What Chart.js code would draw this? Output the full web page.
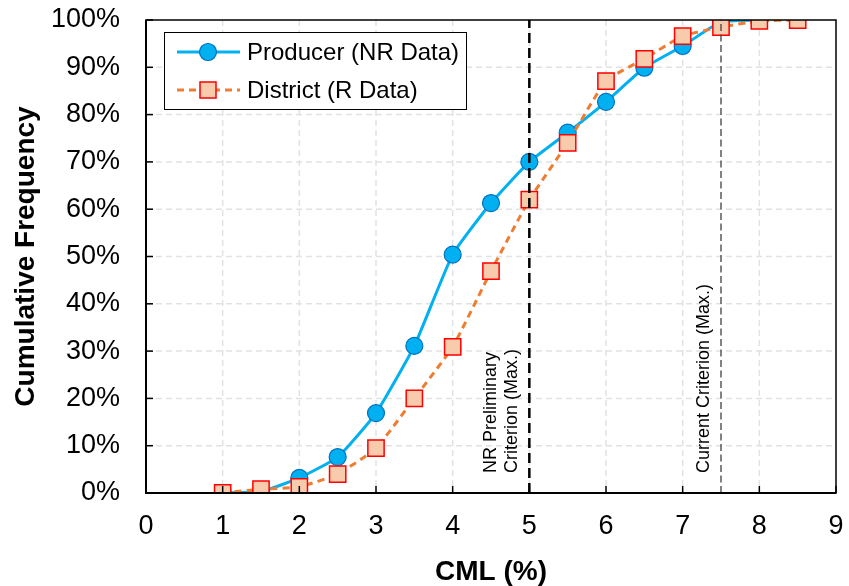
<!DOCTYPE html>
<html><head><meta charset="utf-8">
<script src="https://cdn.jsdelivr.net/npm/chart.js@4/dist/chart.umd.min.js"></script>
<style>html,body{margin:0;padding:0;background:#fff}#wrap{width:849px;height:586px}</style>
</head><body><div id="wrap"><canvas id="c" width="849" height="586"></canvas></div>
<script>
const producerX = [1, 1.5, 2, 2.5, 3, 3.5, 4, 4.5, 5, 5.5, 6, 6.5, 7, 7.5, 8];
const producerY = [0, 0.3, 3.2, 7.6, 16.9, 31.1, 50.4, 61.3, 70.0, 76.2, 82.7, 89.9, 94.5, 99.6, 100];
const districtX = [1, 1.5, 2, 2.5, 3, 3.5, 4, 4.5, 5, 5.5, 6, 6.5, 7, 7.5, 8, 8.5];
const districtY = [0, 0.8, 1.3, 4.0, 9.5, 20.0, 30.9, 46.9, 62.0, 74.0, 87.1, 91.8, 96.6, 98.5, 99.8, 100];
const xTicks = [0,1,2,3,4,5,6,7,8,9];
const yTicks = [0,10,20,30,40,50,60,70,80,90,100];
const criteria = [
  {x: 5, lines: ['NR Preliminary', 'Criterion (Max.)'], color: '#000000', width: 2.5, dash: [10, 5]},
  {x: 7.5, lines: ['Current Criterion (Max.)'], color: '#404040', width: 1.3, dash: [7, 3.5]}
];
const seriesNames = ['Producer (NR Data)', 'District (R Data)'];

const FONT = '"Liberation Sans", Arial, sans-serif';

const toPts = (xs, ys) => xs.map((x, i) => ({x, y: ys[i]}));

const overlay = {
  id: 'overlay',
  beforeDatasetsDraw(chart) {
    const {ctx, chartArea: a, scales: {x, y}} = chart;
    ctx.save();
    ctx.strokeStyle = '#E2E2E2';
    ctx.lineWidth = 1.5;
    ctx.setLineDash([6, 4]);
    xTicks.forEach(v => {
      if (v === 0 || v === 9) return;
      const px = x.getPixelForValue(v);
      ctx.beginPath(); ctx.moveTo(px, a.top); ctx.lineTo(px, a.bottom); ctx.stroke();
    });
    yTicks.forEach(v => {
      if (v === 0 || v === 100) return;
      const py = y.getPixelForValue(v);
      ctx.beginPath(); ctx.moveTo(a.left, py); ctx.lineTo(a.right, py); ctx.stroke();
    });
    ctx.restore();
  },
  afterDatasetsDraw(chart) {
    const {ctx, chartArea: a, scales: {x, y}} = chart;
    ctx.save();
    // criterion lines
    criteria.forEach(c => {
      const px = x.getPixelForValue(c.x);
      ctx.strokeStyle = c.color; ctx.lineWidth = c.width; ctx.setLineDash(c.dash);
      ctx.beginPath(); ctx.moveTo(px, a.bottom); ctx.lineTo(px, a.top); ctx.stroke();
      ctx.setLineDash([]);
      ctx.fillStyle = '#000';
      ctx.font = '18px ' + FONT;
      ctx.textAlign = 'left'; ctx.textBaseline = 'middle';
      const n = c.lines.length;
      c.lines.forEach((t, i) => {
        ctx.save();
        const cx = px - 17 - (n - 1 - i) * 21;
        ctx.translate(cx, a.bottom - 20);
        ctx.rotate(-Math.PI / 2);
        ctx.fillText(t, 0, 0);
        ctx.restore();
      });
    });
    // frame
    ctx.setLineDash([]);
    ctx.strokeStyle = '#000'; ctx.lineWidth = 1.5;
    ctx.strokeRect(a.left, a.top, a.right - a.left, a.bottom - a.top);
    ctx.lineWidth = 2;
    ctx.beginPath(); ctx.moveTo(a.left, a.top); ctx.lineTo(a.left, a.bottom); ctx.lineTo(a.right, a.bottom); ctx.stroke();
    // inside ticks
    ctx.lineWidth = 1.5;
    xTicks.forEach(v => {
      const px = x.getPixelForValue(v);
      ctx.beginPath(); ctx.moveTo(px, a.bottom); ctx.lineTo(px, a.bottom - 7); ctx.stroke();
    });
    yTicks.forEach(v => {
      const py = y.getPixelForValue(v);
      ctx.beginPath(); ctx.moveTo(a.left, py); ctx.lineTo(a.left + 7, py); ctx.stroke();
    });
    // legend
    const lx = 164, ly = 32, lw = 302, lh = 77;
    ctx.fillStyle = '#fff'; ctx.fillRect(lx, ly, lw, lh);
    ctx.strokeStyle = '#000'; ctx.lineWidth = 1; ctx.strokeRect(lx + 0.5, ly + 0.5, lw, lh);
    chart.data.datasets.forEach((ds, i) => {
      const cy = ly + 20 + i * 38;
      ctx.strokeStyle = ds.borderColor; ctx.lineWidth = 3;
      ctx.setLineDash(ds.borderDash || []);
      ctx.beginPath(); ctx.moveTo(lx + 13, cy); ctx.lineTo(lx + 76, cy); ctx.stroke();
      ctx.setLineDash([]);
      ctx.fillStyle = ds.pointBackgroundColor; ctx.strokeStyle = ds.pointBorderColor; ctx.lineWidth = ds.pointBorderWidth;
      if (ds.pointStyle === 'rect') {
        ctx.fillRect(lx + 36, cy - 8, 16, 16); ctx.strokeRect(lx + 36, cy - 8, 16, 16);
      } else {
        ctx.beginPath(); ctx.arc(lx + 44, cy, 8.5, 0, Math.PI * 2); ctx.fill(); ctx.stroke();
      }
      ctx.fillStyle = '#000'; ctx.font = '24px ' + FONT;
      ctx.textAlign = 'left'; ctx.textBaseline = 'middle';
      ctx.fillText(seriesNames[i], lx + 83, cy + 1);
    });
    ctx.restore();
  }
};

new Chart(document.getElementById('c'), {
  type: 'scatter',
  data: {
    datasets: [
      {
        label: seriesNames[0], data: toPts(producerX, producerY), showLine: true,
        borderColor: '#00B0F0', borderWidth: 3, tension: 0.15,
        pointStyle: 'circle', pointRadius: 8.5, pointHoverRadius: 8.5,
        pointBackgroundColor: '#00B0F0', pointBorderColor: '#0070C0', pointBorderWidth: 1.2,
        order: 1
      },
      {
        label: seriesNames[1], data: toPts(districtX, districtY), showLine: true,
        borderColor: '#ED7D31', borderWidth: 3, borderDash: [7, 5], tension: 0.15,
        pointStyle: 'rect', pointRadius: 11.5, pointHoverRadius: 11.5,
        pointBackgroundColor: '#F8CBAD', pointBorderColor: '#FF0000', pointBorderWidth: 1.5,
        order: 0
      }
    ]
  },
  options: {
    responsive: false, animation: false, devicePixelRatio: 1,
    layout: {padding: {top: 20, right: 11, left: 0, bottom: 0}},
    plugins: {legend: {display: false}, tooltip: {enabled: false}},
    scales: {
      x: {
        type: 'linear', min: 0, max: 9,
        afterBuildTicks: s => { s.ticks = xTicks.map(v => ({value: v})); },
        afterFit: s => { s.height = 93; s.paddingLeft = 0; s.paddingRight = 0; },
        grid: {display: false, drawTicks: false}, border: {display: false},
        ticks: {color: '#000', font: {family: FONT, size: 27}, padding: 17},
        title: {display: true, text: 'CML (%)', color: '#000', font: {family: FONT, size: 28, weight: 'bold'}, padding: {top: 0, bottom: -3}}
      },
      y: {
        type: 'linear', min: 0, max: 100,
        afterBuildTicks: s => { s.ticks = yTicks.map(v => ({value: v})); },
        afterFit: s => { s.width = 146; s.paddingTop = 0; s.paddingBottom = 0; },
        grid: {display: false, drawTicks: false}, border: {display: false},
        ticks: {color: '#000', font: {family: FONT, size: 27}, padding: 26, callback: v => v + '%'},
        title: {display: true, text: 'Cumulative Frequency', color: '#000', font: {family: FONT, size: 28, weight: 'bold'}, padding: {top: 9, bottom: 0}}
      }
    }
  },
  plugins: [overlay]
});
</script></body></html>
